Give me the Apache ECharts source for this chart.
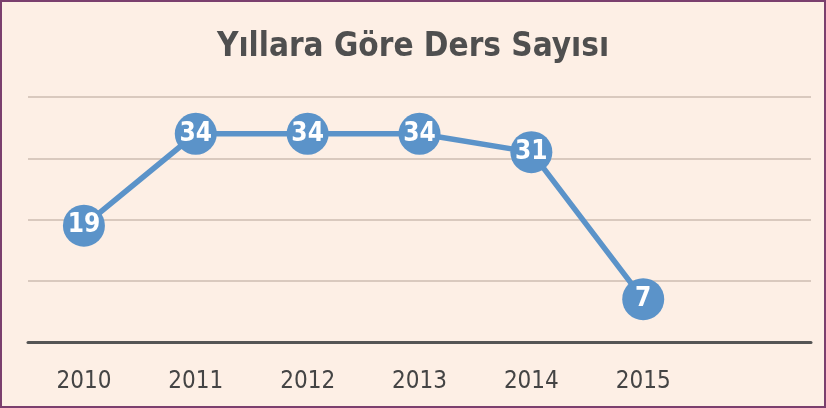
<!DOCTYPE html>
<html>
<head>
<meta charset="utf-8">
<script src="https://cdn.jsdelivr.net/npm/echarts@6/dist/echarts.min.js"></script>
<style>
  html, body { margin: 0; padding: 0; background: #fdefe5; }
  #chart { width: 826px; height: 408px; box-sizing: border-box; border: 2px solid #7b3f6e; }
</style>
</head>
<body>
<div id="chart"></div>
<script>
// years, last slot is left empty like in the original
const years = ['2010', '2011', '2012', '2013', '2014', '2015', ''];
const dersSayisi = [19, 34, 34, 34, 31, 7];
const yTicks = [0, 10, 20, 30, 40];

const fontName = "'DejaVu Sans Condensed', 'DejaVu Sans', sans-serif";

let dom = document.getElementById('chart');
let myChart = echarts.init(dom, null, { renderer: 'canvas' });

let option = {
  backgroundColor: '#fdefe5',
  animation: false,
  title: {
    text: 'Yıllara Göre Ders Sayısı',
    left: 'center',
    top: 24,
    textStyle: {
      fontFamily: fontName,
      fontWeight: 'bold',
      fontSize: 33,
      color: '#4f4f4f'
    }
  },
  grid: { left: 26, right: 13, top: 95, bottom: 64 },
  xAxis: {
    type: 'category',
    data: years,
    boundaryGap: true,
    axisLine: { lineStyle: { color: '#555555', width: 3 } },
    axisTick: { show: false },
    axisLabel: {
      margin: 28,
      fontFamily: fontName,
      fontSize: 24,
      color: '#444444'
    }
  },
  yAxis: {
    type: 'value',
    min: yTicks[0],
    max: yTicks[yTicks.length - 1],
    interval: 10,
    axisLabel: { show: false },
    axisLine: { show: false },
    axisTick: { show: false },
    splitLine: { lineStyle: { color: '#cdbdb1', width: 1.5 } }
  },
  series: [
    {
      type: 'line',
      data: dersSayisi,
      symbol: 'circle',
      symbolSize: 42,
      lineStyle: { color: '#5b93c9', width: 5.5 },
      itemStyle: { color: '#5b93c9' },
      label: {
        show: true,
        position: 'inside',
        fontFamily: fontName,
        fontWeight: 'bold',
        fontSize: 26,
        color: '#ffffff'
      }
    }
  ]
};

if (option && typeof option === 'object') {
  myChart.setOption(option);
}
window.addEventListener('resize', myChart.resize);
</script>
</body>
</html>
